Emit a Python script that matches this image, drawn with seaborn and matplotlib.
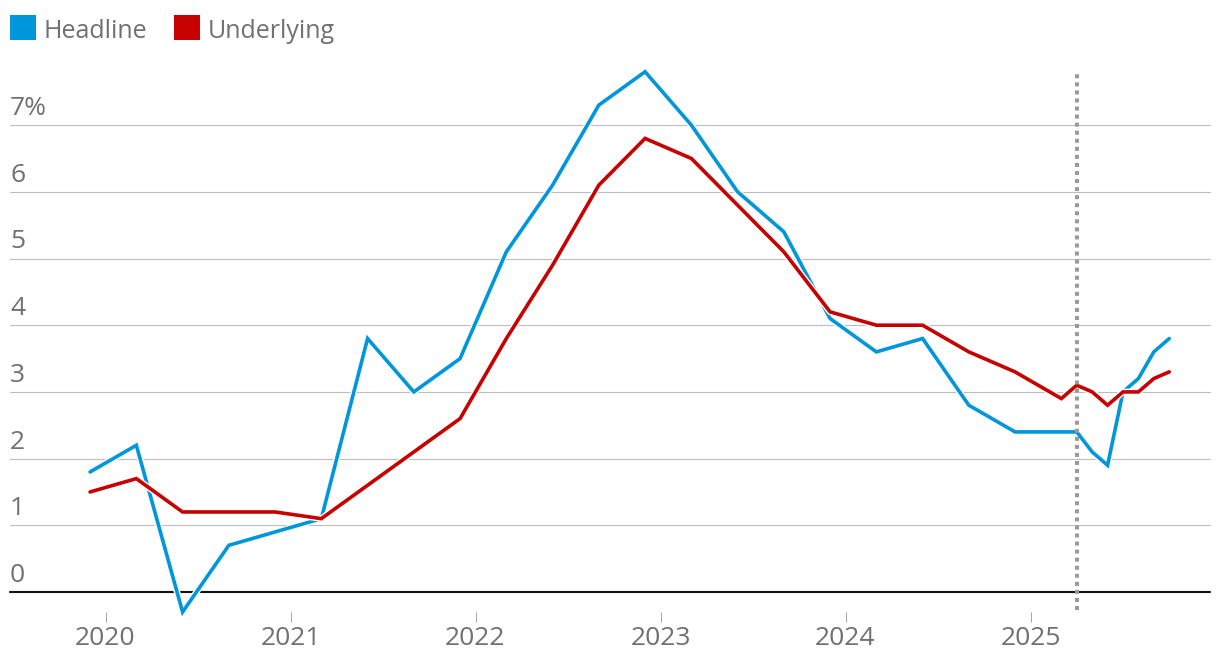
import numpy as np
import pandas as pd
import matplotlib
matplotlib.use("Agg")
import matplotlib.pyplot as plt
import seaborn as sns
from matplotlib import patheffects as pe
from matplotlib.patches import Rectangle
import matplotlib.transforms as mtransforms

# ---------------- data ----------------
quarter_periods = pd.date_range("2019-12-01", "2025-03-01", freq="3MS")
month_periods = pd.date_range("2025-04-01", "2025-10-01", freq="MS")

headline_quarterly = [1.8, 2.2, -0.3, 0.7, 0.9, 1.1, 3.8, 3.0, 3.5, 5.1, 6.1, 7.3,
                      7.8, 7.0, 6.0, 5.4, 4.1, 3.6, 3.8, 2.8, 2.4, 2.4]
underlying_quarterly = [1.5, 1.7, 1.2, 1.2, 1.2, 1.1, 1.6, 2.1, 2.6, 3.8, 4.9, 6.1,
                        6.8, 6.5, 5.8, 5.1, 4.2, 4.0, 4.0, 3.6, 3.3, 2.9]
headline_monthly = [2.4, 2.1, 1.9, 3.0, 3.2, 3.6, 3.8]
underlying_monthly = [3.1, 3.0, 2.8, 3.0, 3.0, 3.2, 3.3]

series_names = ["Headline", "Underlying"]
year_ticks = [2020, 2021, 2022, 2023, 2024, 2025]
y_ticks = [0, 1, 2, 3, 4, 5, 6, 7]
y_tick_labels = ["0", "1", "2", "3", "4", "5", "6", "7%"]
monthly_start = pd.Timestamp("2025-04-01")

BLUE = "#0096db"
RED = "#c70000"
GREY_TXT = "#707070"


def dec_year(ts):
    ts = pd.DatetimeIndex(ts)
    return ts.year + (ts.month - 1) / 12.0


periods = quarter_periods.append(month_periods)
t = dec_year(periods)
df = pd.concat([
    pd.DataFrame({"t": t, "value": headline_quarterly + headline_monthly, "series": "Headline"}),
    pd.DataFrame({"t": t, "value": underlying_quarterly + underlying_monthly, "series": "Underlying"}),
], ignore_index=True)

# ---------------- style ----------------
sns.set_theme(style="white")
plt.rcParams["font.family"] = ["Open Sans", "DejaVu Sans"]

W, H = 1220, 670
fig = plt.figure(figsize=(W / 100, H / 100), dpi=100)
ax_left, ax_right, ax_top, ax_bot = 10, 1210, 58, 612
ax = fig.add_axes([ax_left / W, (H - ax_bot) / H, (ax_right - ax_left) / W, (ax_bot - ax_top) / H])

px_per_year = 185.0
x2020 = 105.5
ax.set_xlim(2020 - (x2020 - ax_left) / px_per_year, 2020 + (ax_right - x2020) / px_per_year)
px_per_unit = 66.7
y0 = 592
ax.set_ylim((y0 - ax_bot) / px_per_unit, (y0 - ax_top) / px_per_unit)

for s in ax.spines.values():
    s.set_visible(False)

# gridlines
for v in y_ticks[1:]:
    ax.axhline(v, color="#bdbdbd", lw=0.8, zorder=1)
ax.axhline(0, color="#121212", lw=1.5, zorder=2)

# lines
sns.lineplot(data=df, x="t", y="value", hue="series", hue_order=series_names,
             palette={"Headline": BLUE, "Underlying": RED}, linewidth=2.6,
             legend=False, sort=False, ax=ax, zorder=4)
for ln in ax.get_lines():
    ln.set_clip_on(False)
    ln.set_solid_joinstyle("miter")
    ln.set_path_effects([pe.Stroke(linewidth=4.6, foreground="white"), pe.Normal()])

# dotted vertical marker
xm = dec_year([monthly_start])[0]
ax.plot([xm, xm], [(y0 - 610) / px_per_unit, (y0 - 72) / px_per_unit], color="#9a9a9a",
        lw=2.9, ls=(0, (1, 1)), dash_capstyle="butt", zorder=6, clip_on=False)

# y labels above gridlines
trans = mtransforms.blended_transform_factory(ax.transAxes, ax.transData)
trans = mtransforms.offset_copy(trans, fig=fig, x=0, y=10, units="dots")
for v, lab in zip(y_ticks, y_tick_labels):
    ax.text(0, v, lab, transform=trans, ha="left", va="baseline",
            fontsize=19, color=GREY_TXT, zorder=3)
ax.set_yticks([])
ax.set_ylabel("")
ax.set_xlabel("")

ax.set_xticks(year_ticks)
ax.set_xticklabels([str(y) for y in year_ticks])
ax.tick_params(axis="x", bottom=True, length=7, width=0.75, color="#a8a8a8",
               labelcolor=GREY_TXT, labelsize=19, pad=3)

# legend
def legend_item(x_sq, x_txt, color, label):
    fig.add_artist(Rectangle((x_sq / W, (H - 40) / H), 26 / W, 25 / H,
                             transform=fig.transFigure, color=color, lw=0))
    fig.text(x_txt / W, (H - 38) / H, label, ha="left", va="baseline",
             fontsize=18, color=GREY_TXT)

legend_item(10, 44, BLUE, series_names[0])
legend_item(174, 208, RED, series_names[1])

fig.savefig("out.png", dpi=100)
